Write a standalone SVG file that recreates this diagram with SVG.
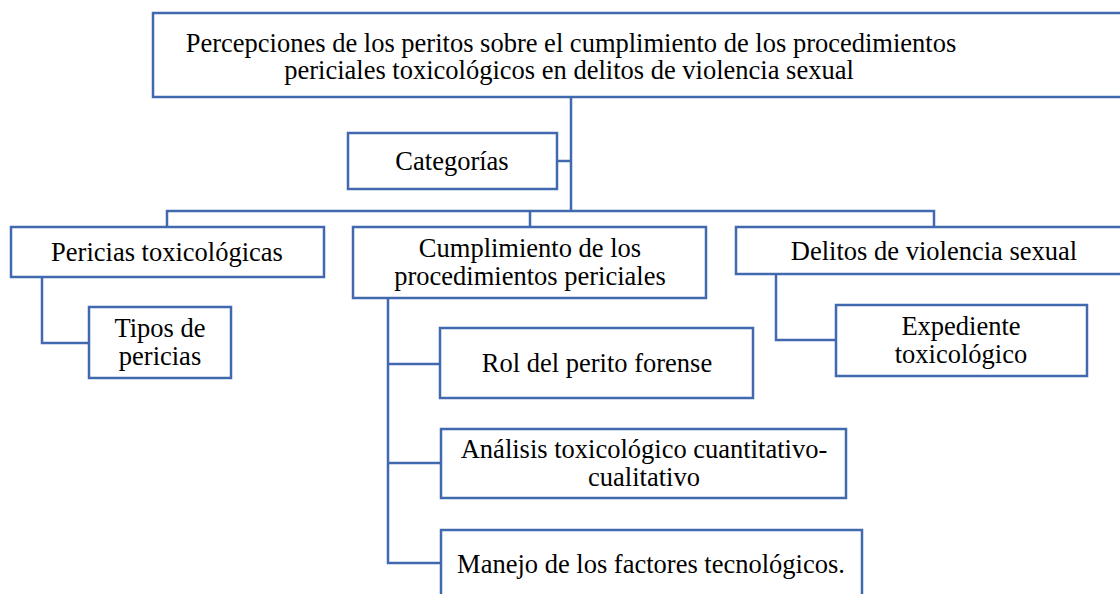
<svg xmlns="http://www.w3.org/2000/svg" width="1120" height="594" viewBox="0 0 1120 594">
<style>
.box{fill:#fff;stroke:#4169AE;stroke-width:2.5}
.ln{fill:none;stroke:#4169AE;stroke-width:2.5}
text{font-family:"Liberation Serif","Times New Roman",serif;font-size:26.5px;fill:#000;text-anchor:middle}
</style>
<rect width="1120" height="594" fill="#fff"/>
<g id="connectors">
<path class="ln" d="M571 97V211M557 161H571M167 227V211H934V227M530 211V227"/>
<path class="ln" d="M42 277V343H89"/>
<path class="ln" d="M776 274V340H836"/>
<path class="ln" d="M388 298V563H441M388 364H440M388 463H441"/>
</g>
<g id="n-top"><rect class="box" x="153" y="13" width="1033" height="84"/>
<text x="571" y="52">Percepciones de los peritos sobre el cumplimiento de los procedimientos</text>
<text x="569" y="79">periciales toxicológicos en delitos de violencia sexual</text></g>
<g id="n-cat"><rect class="box" x="348" y="133" width="209" height="56"/><text x="452" y="170">Categorías</text></g>
<g id="n-peric"><rect class="box" x="11" y="227" width="313" height="50"/><text x="167" y="261">Pericias toxicológicas</text></g>
<g id="n-cumpl"><rect class="box" x="353" y="227" width="353" height="71"/>
<text x="530" y="257">Cumplimiento de los</text><text x="530" y="285">procedimientos periciales</text></g>
<g id="n-delitos"><rect class="box" x="736" y="227" width="400" height="47"/><text x="934" y="260">Delitos de violencia sexual</text></g>
<g id="n-tipos"><rect class="box" x="89" y="307" width="142" height="71"/>
<text x="160" y="337">Tipos de</text><text x="160" y="365">pericias</text></g>
<g id="n-exp"><rect class="box" x="836" y="305" width="251" height="71"/>
<text x="961" y="335">Expediente</text><text x="961" y="363">toxicológico</text></g>
<g id="n-rol"><rect class="box" x="440" y="328" width="313" height="70"/><text x="597" y="372">Rol del perito forense</text></g>
<g id="n-anal"><rect class="box" x="441" y="429" width="405" height="69"/>
<text x="644" y="458">Análisis toxicológico cuantitativo-</text><text x="644" y="486">cualitativo</text></g>
<g id="n-manejo"><rect class="box" x="441" y="530" width="421" height="80"/><text x="651" y="573">Manejo de los factores tecnológicos.</text></g>
</svg>
